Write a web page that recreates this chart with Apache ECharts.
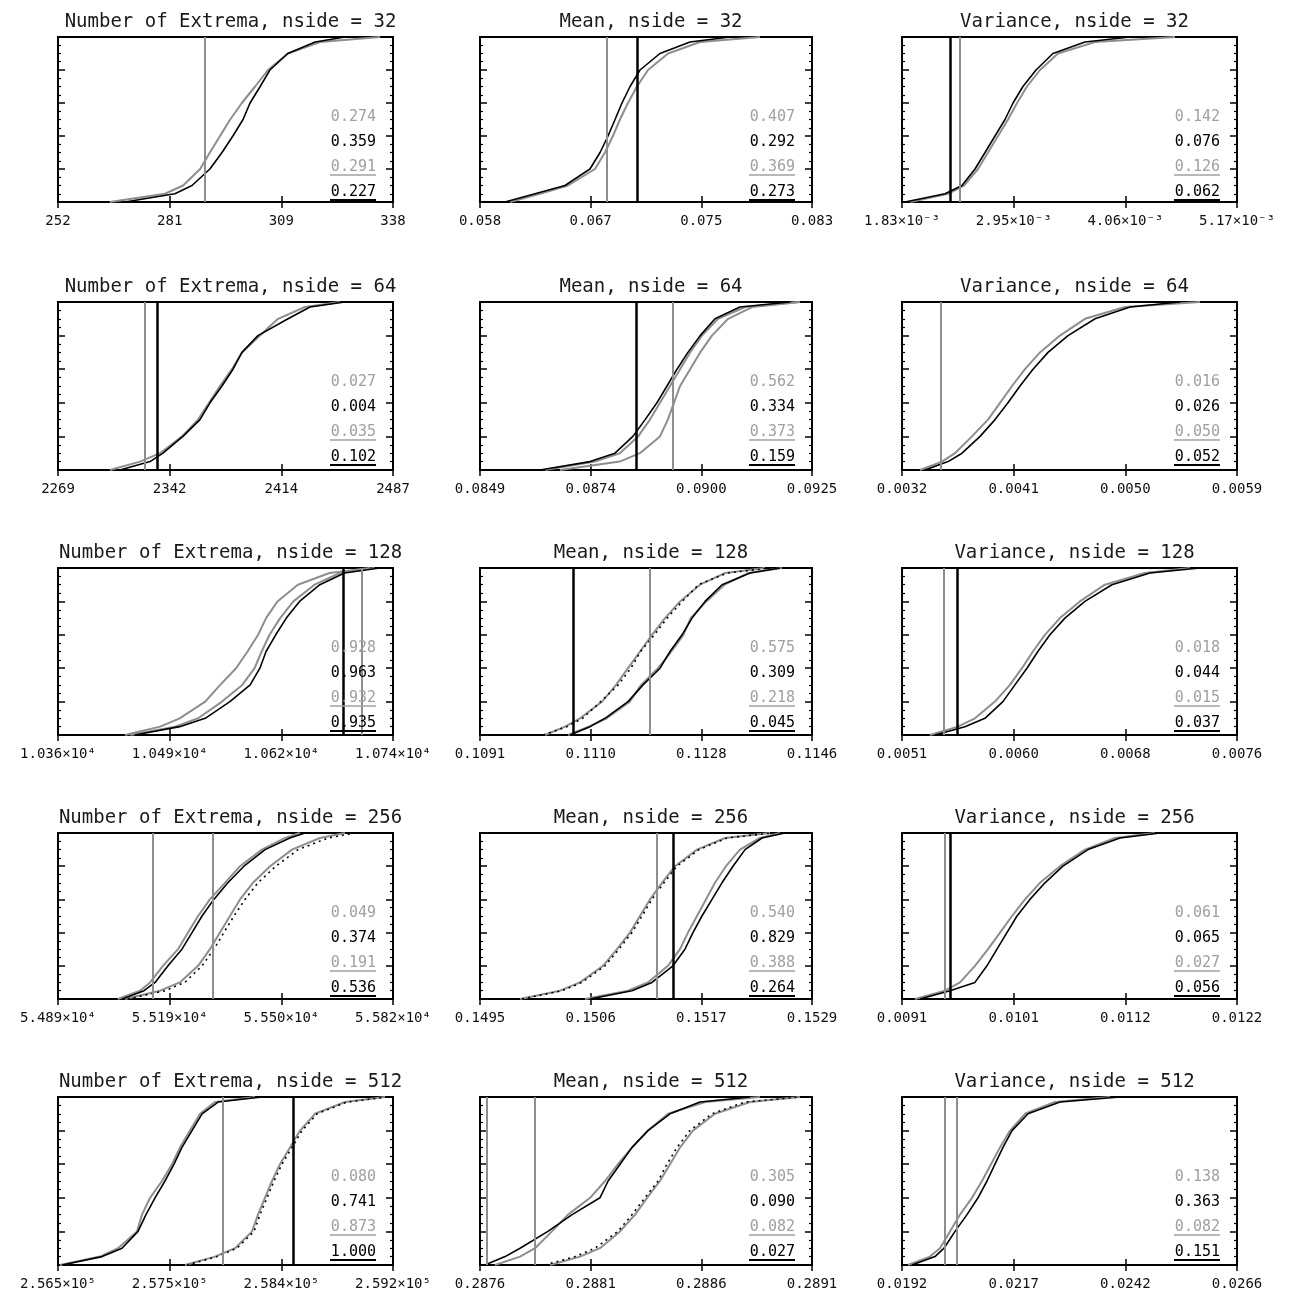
<!DOCTYPE html>
<html><head><meta charset="utf-8">
<script src="https://cdn.jsdelivr.net/npm/echarts@6/dist/echarts.min.js"></script>
<style>html,body{margin:0;padding:0;background:#fff}#c{width:1291px;height:1294px}</style>
</head><body><div id="c"></div>
<script>
// CDF levels shared by every curve (y values)
const cdfLevels = [0, 0.05, 0.1, 0.2, 0.3, 0.4, 0.5, 0.6, 0.7, 0.8, 0.9, 0.97, 1];

// ---- Number of Extrema, nside = 32
const ext32_range = [252, 338];
const ext32_ticks = ['252', '281', '309', '338'];
const ext32_vGray = [289.7];
const ext32_vBlack = [];
const ext32_stats = ['0.274', '0.359', '0.291', '0.227'];
const ext32_gray1 = [265.3, 279.5, 284.1, 288.5, 291.0, 293.6, 296.2, 299.2, 302.6, 305.9, 311.0, 319.3, 334.7];
const ext32_black1 = [269.2, 282.0, 286.4, 291.0, 294.1, 296.9, 299.5, 301.3, 303.9, 306.4, 311.0, 318.0, 325.7];

// ---- Mean, nside = 32
const mean32_range = [0.0584, 0.0834];
const mean32_ticks = ['0.058', '0.067', '0.075', '0.083'];
const mean32_vGray = [0.06796];
const mean32_vBlack = [0.07022];
const mean32_stats = ['0.407', '0.292', '0.369', '0.273'];
const mean32_gray1 = [0.06066, 0.06292, 0.06503, 0.06706, 0.06781, 0.06841, 0.06894, 0.06954, 0.07022, 0.07105, 0.07256, 0.07497, 0.07948];
const mean32_black1 = [0.06028, 0.06254, 0.06480, 0.06668, 0.06744, 0.06804, 0.06857, 0.06909, 0.06970, 0.07045, 0.07195, 0.07421, 0.07723];

// ---- Variance, nside = 32
const var32_range = [0.00183, 0.00517];
const var32_ticks = ['1.83×10⁻³', '2.95×10⁻³', '4.06×10⁻³', '5.17×10⁻³'];
const var32_vGray = [0.002408];
const var32_vBlack = [0.002309];
const var32_stats = ['0.142', '0.076', '0.126', '0.062'];
const var32_gray1 = [0.001910, 0.002289, 0.002448, 0.002588, 0.002687, 0.002787, 0.002887, 0.002977, 0.003076, 0.003206, 0.003385, 0.003754, 0.004552];
const var32_black1 = [0.001860, 0.002259, 0.002428, 0.002558, 0.002658, 0.002757, 0.002857, 0.002937, 0.003036, 0.003166, 0.003335, 0.003654, 0.004103];

// ---- Number of Extrema, nside = 64
const ext64_range = [2269, 2487];
const ext64_ticks = ['2269', '2342', '2414', '2487'];
const ext64_vGray = [2325.6];
const ext64_vBlack = [2333.4];
const ext64_stats = ['0.027', '0.004', '0.035', '0.102'];
const ext64_gray1 = [2302.8, 2322.4, 2335.4, 2349.7, 2360.1, 2367.3, 2374.4, 2382.2, 2388.7, 2400.4, 2412.2, 2429.7, 2452.5];
const ext64_black1 = [2309.3, 2328.9, 2337.3, 2350.3, 2361.4, 2367.9, 2375.7, 2382.9, 2388.7, 2399.1, 2418.7, 2433.0, 2455.7];

// ---- Mean, nside = 64
const mean64_range = [0.0849, 0.0925];
const mean64_ticks = ['0.0849', '0.0874', '0.0900', '0.0925'];
const mean64_vGray = [0.08932];
const mean64_vBlack = [0.08847];
const mean64_stats = ['0.562', '0.334', '0.373', '0.159'];
const mean64_gray1 = [0.08639, 0.08753, 0.08810, 0.08852, 0.08879, 0.08902, 0.08925, 0.08948, 0.08971, 0.08998, 0.09035, 0.09097, 0.09222];
const mean64_black1 = [0.08627, 0.08742, 0.08799, 0.08840, 0.08868, 0.08895, 0.08918, 0.08941, 0.08966, 0.08994, 0.09028, 0.09085, 0.09200];
const mean64_gray2 = [0.08673, 0.08810, 0.08856, 0.08902, 0.08920, 0.08934, 0.08948, 0.08971, 0.08994, 0.09021, 0.09058, 0.09113, 0.09222];

// ---- Variance, nside = 64
const var64_range = [0.0032, 0.0059];
const var64_ticks = ['0.0032', '0.0041', '0.0050', '0.0059'];
const var64_vGray = [0.003514];
const var64_vBlack = [];
const var64_stats = ['0.016', '0.026', '0.050', '0.052'];
const var64_gray1 = [0.003345, 0.003522, 0.003627, 0.003764, 0.003893, 0.003990, 0.004087, 0.004191, 0.004312, 0.004473, 0.004675, 0.004997, 0.005602];
const var64_black1 = [0.003385, 0.003571, 0.003684, 0.003829, 0.003950, 0.004054, 0.004151, 0.004256, 0.004377, 0.004538, 0.004756, 0.005038, 0.005441];

// ---- Number of Extrema, nside = 128
const ext128_range = [10362, 10742];
const ext128_ticks = ['1.036×10⁴', '1.049×10⁴', '1.062×10⁴', '1.074×10⁴'];
const ext128_vGray = [10706.7];
const ext128_vBlack = [10685.2];
const ext128_stats = ['0.928', '0.963', '0.932', '0.935'];
const ext128_gray1 = [10438, 10478, 10500, 10529, 10546, 10564, 10577, 10589, 10598, 10611, 10634, 10670, 10716];
const ext128_black1 = [10449, 10500, 10529, 10557, 10580, 10591, 10598, 10609, 10621, 10636, 10659, 10687, 10727];
const ext128_gray2 = [10444, 10495, 10521, 10548, 10571, 10585, 10593, 10602, 10614, 10629, 10653, 10682, 10721];

// ---- Mean, nside = 128
const mean128_range = [0.1091, 0.1146];
const mean128_ticks = ['0.1091', '0.1110', '0.1128', '0.1146'];
const mean128_vGray = [0.11192];
const mean128_vBlack = [0.11064];
const mean128_stats = ['0.575', '0.309', '0.218', '0.045'];
const mean128_gray1 = [0.110177, 0.110508, 0.110757, 0.111122, 0.111354, 0.111552, 0.111751, 0.111950, 0.112165, 0.112414, 0.112745, 0.113160, 0.113822];
const mean128_black2 = [0.110150, 0.110540, 0.110800, 0.111100, 0.111390, 0.111600, 0.111760, 0.111990, 0.112200, 0.112450, 0.112720, 0.113200, 0.113900];
const mean128_black1 = [0.110591, 0.110923, 0.111171, 0.111552, 0.111801, 0.112083, 0.112248, 0.112447, 0.112613, 0.112828, 0.113110, 0.113574, 0.114071];
const mean128_gray2 = [0.110560, 0.110900, 0.111200, 0.111580, 0.111770, 0.112050, 0.112270, 0.112470, 0.112590, 0.112850, 0.113150, 0.113550, 0.114100];

// ---- Variance, nside = 128
const var128_range = [0.00515, 0.00763];
const var128_ticks = ['0.0051', '0.0060', '0.0068', '0.0076'];
const var128_vGray = [0.005461];
const var128_vBlack = [0.005557];
const var128_stats = ['0.018', '0.044', '0.015', '0.037'];
const var128_gray1 = [0.005357, 0.005564, 0.005690, 0.005838, 0.005949, 0.006038, 0.006119, 0.006208, 0.006319, 0.006467, 0.006652, 0.006948, 0.007281];
const var128_black1 = [0.005394, 0.005616, 0.005764, 0.005897, 0.005986, 0.006075, 0.006156, 0.006245, 0.006356, 0.006504, 0.006704, 0.006985, 0.007355];

// ---- Number of Extrema, nside = 256
const ext256_range = [54885, 55820];
const ext256_ticks = ['5.489×10⁴', '5.519×10⁴', '5.550×10⁴', '5.582×10⁴'];
const ext256_vGray = [55150, 55318];
const ext256_vBlack = [];
const ext256_stats = ['0.049', '0.374', '0.191', '0.536'];
const ext256_gray1 = [55052, 55114, 55142, 55178, 55220, 55248, 55276, 55309, 55351, 55393, 55454, 55519, 55560];
const ext256_black1 = [55064, 55125, 55156, 55192, 55231, 55259, 55287, 55320, 55359, 55404, 55463, 55532, 55574];
const ext256_gray2 = [55072, 55170, 55225, 55276, 55309, 55337, 55365, 55393, 55429, 55477, 55538, 55616, 55686];
const ext256_black2 = [55080, 55184, 55239, 55287, 55320, 55348, 55376, 55407, 55443, 55493, 55555, 55639, 55714];

// ---- Mean, nside = 256
const mean256_range = [0.1495, 0.1529];
const mean256_ticks = ['0.1495', '0.1506', '0.1517', '0.1529'];
const mean256_vGray = [0.151312];
const mean256_vBlack = [0.151476];
const mean256_stats = ['0.540', '0.829', '0.388', '0.264'];
const mean256_gray1 = [0.149910, 0.150319, 0.150524, 0.150760, 0.150903, 0.151036, 0.151138, 0.151241, 0.151364, 0.151497, 0.151722, 0.152009, 0.152470];
const mean256_black2 = [0.149930, 0.150340, 0.150544, 0.150780, 0.150923, 0.151056, 0.151159, 0.151261, 0.151384, 0.151517, 0.151743, 0.152029, 0.152490];
const mean256_black1 = [0.150626, 0.151056, 0.151261, 0.151476, 0.151599, 0.151681, 0.151773, 0.151876, 0.151978, 0.152091, 0.152214, 0.152388, 0.152623];
const mean256_gray2 = [0.150575, 0.151015, 0.151220, 0.151425, 0.151548, 0.151630, 0.151722, 0.151814, 0.151906, 0.152019, 0.152162, 0.152367, 0.152572];

// ---- Variance, nside = 256
const var256_range = [0.0091, 0.0122];
const var256_ticks = ['0.0091', '0.0101', '0.0112', '0.0122'];
const var256_vGray = [0.009498];
const var256_vBlack = [0.009544];
const var256_stats = ['0.061', '0.065', '0.027', '0.056'];
const var256_gray1 = [0.009220, 0.009498, 0.009637, 0.009775, 0.009896, 0.010007, 0.010118, 0.010238, 0.010377, 0.010562, 0.010793, 0.011070, 0.011440];
const var256_black1 = [0.009267, 0.009544, 0.009775, 0.009886, 0.009979, 0.010071, 0.010164, 0.010284, 0.010423, 0.010589, 0.010821, 0.011117, 0.011487];

// ---- Number of Extrema, nside = 512
const ext512_range = [256500, 259200];
const ext512_ticks = ['2.565×10⁵', '2.575×10⁵', '2.584×10⁵', '2.592×10⁵'];
const ext512_vGray = [257830];
const ext512_vBlack = [258394];
const ext512_stats = ['0.080', '0.741', '0.873', '1.000'];
const ext512_gray1 = [256516, 256839, 256984, 257137, 257177, 257242, 257338, 257419, 257483, 257564, 257645, 257765, 258088];
const ext512_black1 = [256532, 256855, 257016, 257145, 257209, 257282, 257362, 257435, 257499, 257580, 257661, 257790, 258144];
const ext512_gray2 = [257524, 257765, 257927, 258064, 258112, 258168, 258225, 258289, 258370, 258451, 258571, 258813, 259136];
const ext512_black2 = [257540, 257782, 257943, 258080, 258128, 258185, 258241, 258305, 258386, 258467, 258588, 258829, 259152];

// ---- Mean, nside = 512
const mean512_range = [0.28755, 0.2891];
const mean512_ticks = ['0.2876', '0.2881', '0.2886', '0.2891'];
const mean512_vGray = [0.287583, 0.287807];
const mean512_vBlack = [];
const mean512_stats = ['0.305', '0.090', '0.082', '0.027'];
const mean512_gray1 = [0.287620, 0.287737, 0.287807, 0.287886, 0.287961, 0.288064, 0.288134, 0.288194, 0.288260, 0.288334, 0.288428, 0.288601, 0.288857];
const mean512_black1 = [0.287573, 0.287667, 0.287737, 0.287867, 0.287980, 0.288110, 0.288148, 0.288204, 0.288260, 0.288334, 0.288437, 0.288577, 0.288811];
const mean512_gray2 = [0.287877, 0.288017, 0.288110, 0.288204, 0.288274, 0.288330, 0.288390, 0.288437, 0.288484, 0.288544, 0.288647, 0.288811, 0.289044];
const mean512_black2 = [0.287853, 0.287994, 0.288087, 0.288194, 0.288260, 0.288320, 0.288381, 0.288423, 0.288470, 0.288530, 0.288633, 0.288787, 0.289044];

// ---- Variance, nside = 512
const var512_range = [0.0192, 0.0266];
const var512_ticks = ['0.0192', '0.0217', '0.0242', '0.0266'];
const var512_vGray = [0.020150, 0.020415];
const var512_vBlack = [];
const var512_stats = ['0.138', '0.363', '0.082', '0.151'];
const var512_gray1 = [0.019333, 0.019819, 0.020039, 0.020260, 0.020481, 0.020746, 0.020967, 0.021166, 0.021365, 0.021586, 0.021917, 0.022580, 0.023795];
const var512_black1 = [0.019421, 0.019929, 0.020128, 0.020371, 0.020636, 0.020879, 0.021078, 0.021254, 0.021431, 0.021630, 0.021983, 0.022690, 0.024016];

// ---------------- assembly ----------------
const panels = [
  {title: 'Number of Extrema, nside = 32', range: ext32_range, ticks: ext32_ticks, vGray: ext32_vGray, vBlack: ext32_vBlack, stats: ext32_stats, curves: {gray1: ext32_gray1, black1: ext32_black1}},
  {title: 'Mean, nside = 32', range: mean32_range, ticks: mean32_ticks, vGray: mean32_vGray, vBlack: mean32_vBlack, stats: mean32_stats, curves: {gray1: mean32_gray1, black1: mean32_black1}},
  {title: 'Variance, nside = 32', range: var32_range, ticks: var32_ticks, vGray: var32_vGray, vBlack: var32_vBlack, stats: var32_stats, curves: {gray1: var32_gray1, black1: var32_black1}},
  {title: 'Number of Extrema, nside = 64', range: ext64_range, ticks: ext64_ticks, vGray: ext64_vGray, vBlack: ext64_vBlack, stats: ext64_stats, curves: {gray1: ext64_gray1, black1: ext64_black1}},
  {title: 'Mean, nside = 64', range: mean64_range, ticks: mean64_ticks, vGray: mean64_vGray, vBlack: mean64_vBlack, stats: mean64_stats, curves: {gray1: mean64_gray1, gray2: mean64_gray2, black1: mean64_black1}},
  {title: 'Variance, nside = 64', range: var64_range, ticks: var64_ticks, vGray: var64_vGray, vBlack: var64_vBlack, stats: var64_stats, curves: {gray1: var64_gray1, black1: var64_black1}},
  {title: 'Number of Extrema, nside = 128', range: ext128_range, ticks: ext128_ticks, vGray: ext128_vGray, vBlack: ext128_vBlack, stats: ext128_stats, curves: {gray1: ext128_gray1, gray2: ext128_gray2, black1: ext128_black1}},
  {title: 'Mean, nside = 128', range: mean128_range, ticks: mean128_ticks, vGray: mean128_vGray, vBlack: mean128_vBlack, stats: mean128_stats, curves: {gray1: mean128_gray1, gray2: mean128_gray2, black1: mean128_black1, black2: mean128_black2}},
  {title: 'Variance, nside = 128', range: var128_range, ticks: var128_ticks, vGray: var128_vGray, vBlack: var128_vBlack, stats: var128_stats, curves: {gray1: var128_gray1, black1: var128_black1}},
  {title: 'Number of Extrema, nside = 256', range: ext256_range, ticks: ext256_ticks, vGray: ext256_vGray, vBlack: ext256_vBlack, stats: ext256_stats, curves: {gray1: ext256_gray1, gray2: ext256_gray2, black1: ext256_black1, black2: ext256_black2}},
  {title: 'Mean, nside = 256', range: mean256_range, ticks: mean256_ticks, vGray: mean256_vGray, vBlack: mean256_vBlack, stats: mean256_stats, curves: {gray1: mean256_gray1, gray2: mean256_gray2, black1: mean256_black1, black2: mean256_black2}},
  {title: 'Variance, nside = 256', range: var256_range, ticks: var256_ticks, vGray: var256_vGray, vBlack: var256_vBlack, stats: var256_stats, curves: {gray1: var256_gray1, black1: var256_black1}},
  {title: 'Number of Extrema, nside = 512', range: ext512_range, ticks: ext512_ticks, vGray: ext512_vGray, vBlack: ext512_vBlack, stats: ext512_stats, curves: {gray1: ext512_gray1, gray2: ext512_gray2, black1: ext512_black1, black2: ext512_black2}},
  {title: 'Mean, nside = 512', range: mean512_range, ticks: mean512_ticks, vGray: mean512_vGray, vBlack: mean512_vBlack, stats: mean512_stats, curves: {gray1: mean512_gray1, gray2: mean512_gray2, black1: mean512_black1, black2: mean512_black2}},
  {title: 'Variance, nside = 512', range: var512_range, ticks: var512_ticks, vGray: var512_vGray, vBlack: var512_vBlack, stats: var512_stats, curves: {gray1: var512_gray1, black1: var512_black1}}
];

const GRAY = '#8e8e8e';
const STAT_GRAY = '#a0a0a0';
const FONT = '"DejaVu Sans Mono", monospace';
const curveStyles = {
  gray1: {color: GRAY, width: 2, type: 'solid'},
  gray2: {color: GRAY, width: 2, type: 'solid'},
  black1: {color: '#000', width: 1.6, type: 'solid'},
  black2: {color: '#000', width: 1.6, type: [2, 4]}
};
const colLeft = [58, 480, 902], colWidth = [335, 332, 335];
const rowTop = [37, 302, 568, 833, 1097], rowHeight = [165, 168, 167, 166, 168];
const statOffsets = [80, 105, 130, 155];
const statColors = [STAT_GRAY, '#000', STAT_GRAY, '#000'];
const statUnderline = [false, false, true, true];

const option = {backgroundColor: '#fff', animation: false, title: [], grid: [], xAxis: [], yAxis: [], series: [], graphic: []};

function nearestIdx(arr, v) {
  let b = 0;
  arr.forEach((a, i) => { if (Math.abs(a - v) < Math.abs(arr[b] - v)) b = i; });
  return b;
}

panels.forEach((p, k) => {
  const r = Math.floor(k / 3), c = k % 3;
  const L = colLeft[c], T = rowTop[r], W = colWidth[c], H = rowHeight[r];
  option.grid.push({left: L, top: T, width: W, height: H, show: true, borderColor: '#000', borderWidth: 2, backgroundColor: 'transparent'});
  option.title.push({text: p.title, left: L + W / 2, top: T - 29, textAlign: 'center',
    textStyle: {fontFamily: FONT, fontSize: 19, fontWeight: 'normal', color: '#1a1a1a'}});
  const [mn, mx] = p.range;
  const tv = [mn, mn + (mx - mn) / 3, mn + (mx - mn) * 2 / 3, mx];
  const tickStyle = {show: true, inside: true, length: 6, customValues: tv, lineStyle: {color: '#000', width: 1.5}};
  option.xAxis.push({type: 'value', gridIndex: k, min: mn, max: mx, position: 'bottom', scale: true,
    splitLine: {show: false}, axisLine: {show: false}, axisTick: tickStyle,
    axisLabel: {show: true, customValues: tv, showMinLabel: true, showMaxLabel: true, hideOverlap: false, margin: 12, fontFamily: FONT, fontSize: 14, color: '#111',
      formatter: v => p.ticks[nearestIdx(tv, v)]}});
  option.xAxis.push({type: 'value', gridIndex: k, min: mn, max: mx, position: 'top', scale: true,
    splitLine: {show: false}, axisLine: {show: false}, axisTick: tickStyle, axisLabel: {show: false}});
  ['left', 'right'].forEach(pos => {
    option.yAxis.push({type: 'value', gridIndex: k, min: 0, max: 1, interval: 0.2, position: pos,
      splitLine: {show: false}, axisLine: {show: false}, axisLabel: {show: false},
      axisTick: {show: true, inside: true, length: 7, lineStyle: {color: '#000', width: 1.5}},
      minorTick: {show: true, splitNumber: 4, length: 3, lineStyle: {color: '#000', width: 1.2}},
      minorSplitLine: {show: false}});
  });
  let first = true;
  const order = ['gray1', 'gray2', 'black1', 'black2'];
  order.forEach(name => {
    const xs = p.curves[name];
    if (!xs) return;
    const s = {type: 'line', xAxisIndex: 2 * k, yAxisIndex: 2 * k, silent: true, showSymbol: false,
      data: xs.map((x, i) => [x, cdfLevels[i]]), lineStyle: curveStyles[name], z: name.startsWith('black') ? 4 : 3};
    if (first) {
      s.markLine = {silent: true, symbol: 'none', precision: 10, label: {show: false}, animation: false,
        data: [
          ...p.vGray.map(v => ({xAxis: v, lineStyle: {color: GRAY, width: 2, type: 'solid'}})),
          ...p.vBlack.map(v => ({xAxis: v, lineStyle: {color: '#000', width: 2.5, type: 'solid'}}))
        ]};
      first = false;
    }
    option.series.push(s);
  });
  const rx = L + W - 17;
  p.stats.forEach((txt, i) => {
    const cy = T + statOffsets[i];
    option.graphic.push({type: 'text', x: rx, y: cy, z: 10,
      style: {text: txt, fill: statColors[i], font: '15px ' + FONT, textAlign: 'right', textVerticalAlign: 'middle'}});
    if (statUnderline[i]) {
      option.graphic.push({type: 'line', z: 10, shape: {x1: rx - 46, y1: cy + 8, x2: rx, y2: cy + 8},
        style: {stroke: statColors[i], lineWidth: i === 3 ? 2 : 1.5}});
    }
  });
});

const chart = echarts.init(document.getElementById('c'), null, {renderer: 'canvas'});
chart.setOption(option);
</script>
</body></html>
